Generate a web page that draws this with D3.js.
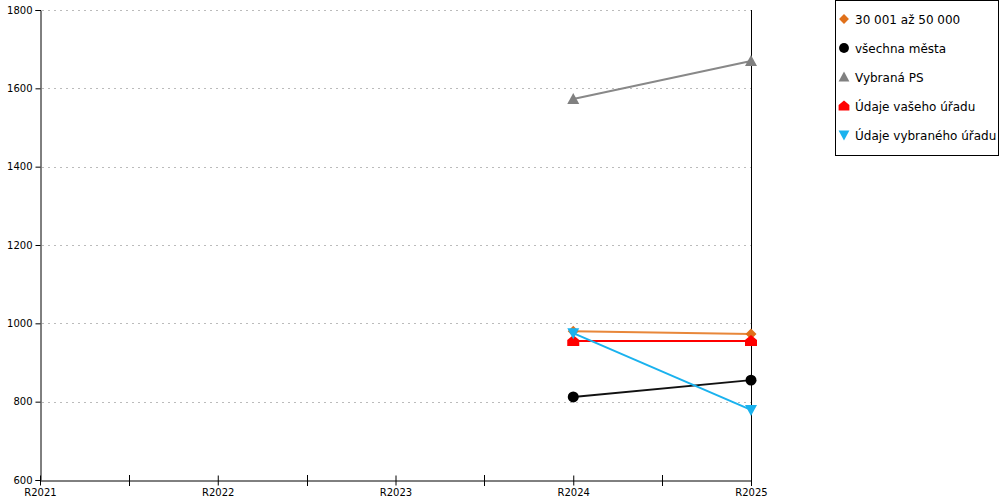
<!DOCTYPE html>
<html>
<head>
<meta charset="utf-8">
<script src="https://cdn.jsdelivr.net/npm/d3@7"></script>
<style>
  body { margin: 0; background: #fff; }
  text { font-family: "DejaVu Sans", Verdana, sans-serif; }
</style>
</head>
<body>
<div id="chart"></div>
<script>
// categories and values
const years = ["R2021", "R2022", "R2023", "R2024", "R2025"];
const yTicks = [600, 800, 1000, 1200, 1400, 1600, 1800];

const seriesNames = ["30 001 až 50 000", "všechna města", "Vybraná PS", "Údaje vašeho úřadu", "Údaje vybraného úřadu"];
const valsSize = [null, null, null, 980, 973];
const valsAll = [null, null, null, 812, 855];
const valsPS = [null, null, null, 1573, 1670];
const valsOffice = [null, null, null, 955, 955];
const valsSelected = [null, null, null, 975, 779];

const series = [
    { name: seriesNames[0], values: valsSize, color: "#e0701a", line: "#e8873a", shape: "diamond" },
    { name: seriesNames[1], values: valsAll, color: "#000000", line: "#111111", shape: "circle" },
    { name: seriesNames[2], values: valsPS, color: "#808080", line: "#888888", shape: "triangle" },
    { name: seriesNames[3], values: valsOffice, color: "#ff0000", line: "#ff0000", shape: "house" },
    { name: seriesNames[4], values: valsSelected, color: "#1ab2ee", line: "#1ab2ee", shape: "down" }
];

const W = 1000, H = 500;
const svg = d3.select("#chart").append("svg")
    .attr("width", W).attr("height", H);

const x = d3.scalePoint().domain(years).range([40, 751]);
const y = d3.scaleLinear().domain([600, 1800]).range([480, 10]);

// grid lines
svg.append("g").selectAll("line")
    .data(yTicks.slice(1))
    .enter().append("line")
    .attr("x1", 42).attr("x2", 751)
    .attr("y1", d => Math.round(y(d)) + 0.5).attr("y2", d => Math.round(y(d)) + 0.5)
    .attr("stroke", "#bbbbbb")
    .attr("stroke-dasharray", "2,4");

// y axis
const yAxis = svg.append("g")
    .attr("transform", "translate(40.5,0)")
    .call(d3.axisLeft(y).tickValues(yTicks).tickSize(5).tickPadding(3).tickFormat(d3.format("d")));
yAxis.selectAll("text").attr("font-size", 10).attr("fill", "#000")
    .style("font-family", "'DejaVu Sans', Verdana, sans-serif");
yAxis.selectAll("line,path").attr("stroke", "#000");

// x axis
const xAxis = svg.append("g")
    .attr("transform", "translate(0,480.5)")
    .call(d3.axisBottom(x).tickSize(5).tickPadding(3).tickSizeOuter(0));
xAxis.selectAll("text").attr("font-size", 10).attr("fill", "#000")
    .style("font-family", "'DejaVu Sans', Verdana, sans-serif");
xAxis.selectAll("line,path").attr("stroke", "#000");
xAxis.selectAll(".tick line").attr("y1", -5);

// minor ticks between categories
const step = x.step();
svg.append("g").selectAll("line")
    .data(years.slice(0, -1))
    .enter().append("line")
    .attr("x1", d => Math.round(x(d) + step / 2) + 0.5)
    .attr("x2", d => Math.round(x(d) + step / 2) + 0.5)
    .attr("y1", 475).attr("y2", 486)
    .attr("stroke", "#000");

// right vertical line at last category
svg.append("line")
    .attr("x1", Math.round(x(years[years.length - 1])) + 0.5)
    .attr("x2", Math.round(x(years[years.length - 1])) + 0.5)
    .attr("y1", y(1800)).attr("y2", 486)
    .attr("stroke", "#000");

function markerPath(shape) {
    switch (shape) {
        case "diamond": return "M0,-5.5L5.5,0L0,5.5L-5.5,0Z";
        case "circle": return d3.symbol(d3.symbolCircle, 95)();
        case "triangle": return "M0,-6L6,5L-6,5Z";
        case "house": return "M0,-6L6,-1L6,5L-6,5L-6,-1Z";
        case "down": return "M-6,-5L6,-5L0,6Z";
    }
}

const line = d3.line()
    .defined(d => d != null)
    .x((d, i) => x(years[i]))
    .y(d => y(d));

series.forEach(s => {
    const g = svg.append("g");
    g.append("path")
        .attr("d", line(s.values))
        .attr("fill", "none")
        .attr("stroke", s.line)
        .attr("stroke-width", 2);
    g.selectAll("path.m")
        .data(s.values.map((v, i) => ({ v, i })).filter(d => d.v != null))
        .enter().append("path")
        .attr("class", "m")
        .attr("d", markerPath(s.shape))
        .attr("transform", d => `translate(${x(years[d.i])},${y(d.v)})`)
        .attr("fill", s.color);
});

// legend
const legend = svg.append("g");
legend.append("rect")
    .attr("x", 835.5).attr("y", 0.5)
    .attr("width", 163).attr("height", 155)
    .attr("fill", "#fff").attr("stroke", "#000");

const item = legend.selectAll("g.item")
    .data(series)
    .enter().append("g")
    .attr("class", "item")
    .attr("transform", (d, i) => `translate(844,${19 + i * 29})`);
item.append("path")
    .attr("d", d => markerPath(d.shape))
    .attr("fill", d => d.color)
    .attr("transform", "scale(0.9)");
item.append("text")
    .attr("x", 11).attr("y", 4.5)
    .attr("font-size", 12)
    .attr("fill", "#000")
    .text(d => d.name);
</script>
</body>
</html>
